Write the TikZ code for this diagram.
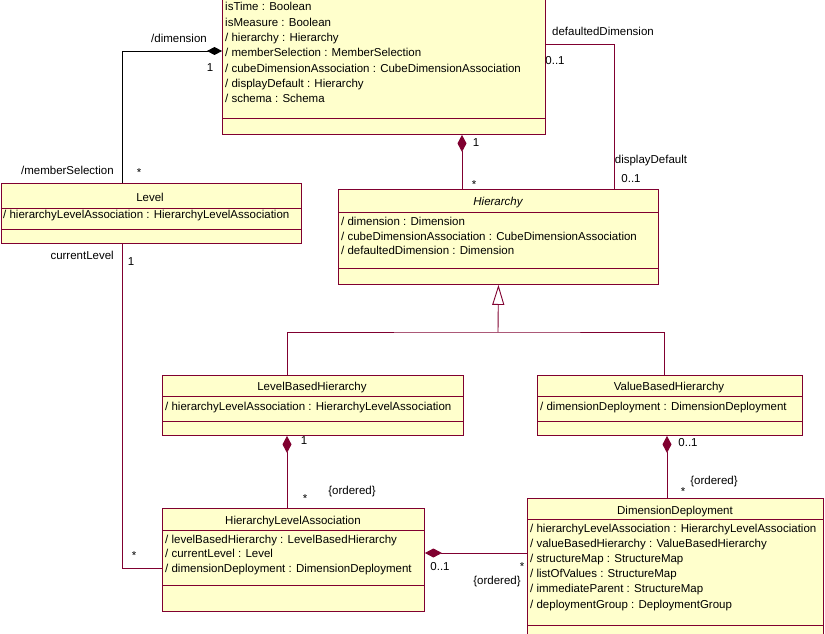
\documentclass[tikz,border=0pt]{standalone}
\usepackage{fontspec}
\setmainfont{Liberation Sans}
\usetikzlibrary{arrows.meta,calc}
\definecolor{umlfill}{RGB}{255,255,204}
\definecolor{umlline}{RGB}{128,0,48}
\begin{document}
\begin{tikzpicture}[x=1pt,y=-1pt,
  cls/.style={draw=umlline,fill=umlfill,line width=0.9pt,rectangle,anchor=north west,inner sep=0pt},
  sep/.style={draw=umlline,line width=0.9pt},
  attr/.style={font=\fontsize{11.5}{13}\selectfont,inner sep=0pt,anchor=base west,text=black},
  cname/.style={font=\fontsize{11.5}{13}\selectfont,inner sep=0pt,anchor=base,text=black},
  lab/.style={font=\fontsize{11.5}{13}\selectfont,inner sep=0pt,text=black},
  assoc/.style={draw=umlline,line width=0.9pt},
  comp/.style={draw=umlline,line width=0.9pt,{Diamond[length=17pt,width=9pt,fill=umlline]}-},
  gen/.style={draw=umlline,line width=0.9pt,-{Triangle[open,length=20pt,width=12pt,fill=white]}}
]
\useasboundingbox (0,0) rectangle (825,634);
\clip (0,0) rectangle (825,634);
\fill[white] (0,0) rectangle (825,634);

% ---- Dimension (top, cut off) ----
\node[cls,minimum width=323pt,minimum height=174pt] (dim) at (222,-40) {};
\draw[sep] (dim.west |- 0,118) -- (dim.east |- 0,118);
\foreach \t [count=\i] in {isTime : Boolean,isMeasure : Boolean,/ hierarchy : Hierarchy,/ memberSelection : MemberSelection,/ cubeDimensionAssociation : CubeDimensionAssociation,/ displayDefault : Hierarchy,/ schema : Schema}
  \node[attr] (dimA\i) at (225,{11+15.3*(\i-1)}) {\t};

% ---- Level ----
\node[cls,minimum width=300pt,minimum height=60pt] (level) at (0.5,183) {};
\draw[sep] (level.west |- 0,208) -- (level.east |- 0,208);
\draw[sep] (level.west |- 0,229) -- (level.east |- 0,229);
\node[cname] (levelN) at (150,201) {Level};
\node[attr] (levelA1) at (3,218) {/ hierarchyLevelAssociation : HierarchyLevelAssociation};

% ---- Hierarchy ----
\node[cls,minimum width=320pt,minimum height=95pt] (hier) at (338,189) {};
\draw[sep] (hier.west |- 0,212) -- (hier.east |- 0,212);
\draw[sep] (hier.west |- 0,268) -- (hier.east |- 0,268);
\node[cname] (hierN) at (498,205) {\itshape Hierarchy};
\foreach \t [count=\i] in {/ dimension : Dimension,/ cubeDimensionAssociation : CubeDimensionAssociation,/ defaultedDimension : Dimension}
  \node[attr] (hierA\i) at (341,{225.5+14.5*(\i-1)}) {\t};

% ---- LevelBasedHierarchy ----
\node[cls,minimum width=301pt,minimum height=60pt] (lbh) at (162,375) {};
\draw[sep] (lbh.west |- 0,396) -- (lbh.east |- 0,396);
\draw[sep] (lbh.west |- 0,421) -- (lbh.east |- 0,421);
\node[cname] (lbhN) at (312,390) {LevelBasedHierarchy};
\node[attr] (lbhA1) at (165,410) {/ hierarchyLevelAssociation : HierarchyLevelAssociation};

% ---- ValueBasedHierarchy ----
\node[cls,minimum width=265pt,minimum height=60pt] (vbh) at (537,375) {};
\draw[sep] (vbh.west |- 0,396) -- (vbh.east |- 0,396);
\draw[sep] (vbh.west |- 0,421) -- (vbh.east |- 0,421);
\node[cname] (vbhN) at (669,390) {ValueBasedHierarchy};
\node[attr] (vbhA1) at (540,410) {/ dimensionDeployment : DimensionDeployment};

% ---- HierarchyLevelAssociation ----
\node[cls,minimum width=262pt,minimum height=103pt] (hla) at (162,508) {};
\draw[sep] (hla.west |- 0,530) -- (hla.east |- 0,530);
\draw[sep] (hla.west |- 0,585) -- (hla.east |- 0,585);
\node[cname] (hlaN) at (293,524) {HierarchyLevelAssociation};
\foreach \t [count=\i] in {/ levelBasedHierarchy : LevelBasedHierarchy,/ currentLevel : Level,/ dimensionDeployment : DimensionDeployment}
  \node[attr] (hlaA\i) at (165,{543+14.5*(\i-1)}) {\t};

% ---- DimensionDeployment ----
\node[cls,minimum width=296pt,minimum height=160pt] (dd) at (527,498) {};
\draw[sep] (dd.west |- 0,519) -- (dd.east |- 0,519);
\draw[sep] (dd.west |- 0,625) -- (dd.east |- 0,625);
\node[cname] (ddN) at (675,514) {DimensionDeployment};
\foreach \t [count=\i] in {/ hierarchyLevelAssociation : HierarchyLevelAssociation,/ valueBasedHierarchy : ValueBasedHierarchy,/ structureMap : StructureMap,/ listOfValues : StructureMap,/ immediateParent : StructureMap,/ deploymentGroup : DeploymentGroup}
  \node[attr] (ddA\i) at (530,{532+15.2*(\i-1)}) {\t};

% ---- connectors ----
\draw[black,line width=0.9pt,{Diamond[length=15pt,width=8pt,fill=black]}-]
  (dim.west |- 0,51) -| (level.north -| 122,0);
\draw[comp] (dim.south -| 462,0) -- (hier.north -| 462,0);
\draw[assoc] (dim.east |- 0,44) -| (hier.north -| 614,0);
\coordinate (gj) at (498,332);
\draw[gen] (gj) -- (hier.south);
\draw[assoc] (lbh.north -| 287,0) |- (gj) -| (vbh.north -| 664,0);
\draw[assoc] (level.south -| 122,0) |- (hla.west |- 0,568);
\draw[comp] (lbh.south -| 287,0) -- (hla.north -| 287,0);
\draw[comp] (vbh.south -| 667,0) -- (dd.north -| 667,0);
\draw[comp] (hla.east |- 0,553) -- (dd.west |- 0,553);

% ---- labels ----
\node[lab,anchor=east] (t1) at (207,38) {/dimension};
\node[lab] (t2) at (210,68) {1};
\node[lab,anchor=east] (t3) at (114,170) {/memberSelection};
\node[lab] (t4) at (139,173) {*};
\node[lab] (t5) at (476,143) {1};
\node[lab] (t6) at (474,185) {*};
\node[lab] (t7) at (603,31) {defaultedDimension};
\node[lab] (t8) at (555,61) {0..1};
\node[lab] (t9) at (651,161) {displayDefault};
\node[lab] (t10) at (631,179) {0..1};
\node[lab,anchor=east] (t11) at (114,255) {currentLevel};
\node[lab] (t12) at (131,262) {1};
\node[lab] (t13) at (134,556) {*};
\node[lab] (t14) at (304,441) {1};
\node[lab] (t15) at (305,499) {*};
\node[lab] (t16) at (352,492) {\{ordered\}};
\node[lab] (t17) at (688,443) {0..1};
\node[lab] (t18) at (714,482) {\{ordered\}};
\node[lab] (t19) at (683,492) {*};
\node[lab] (t20) at (440,567) {0..1};
\node[lab] (t21) at (522,567) {*};
\node[lab] (t22) at (497,582) {\{ordered\}};
\end{tikzpicture}
\end{document}
